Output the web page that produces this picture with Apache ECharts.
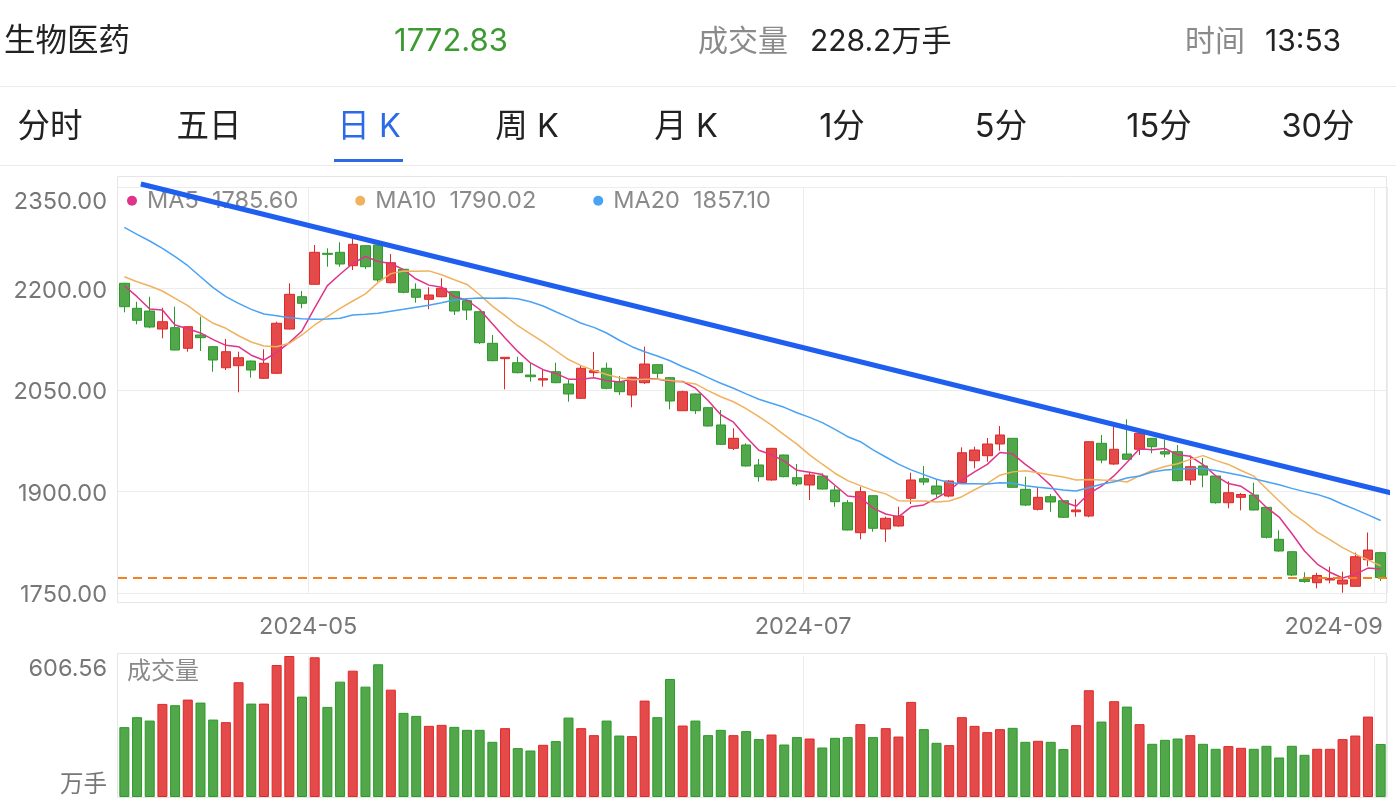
<!DOCTYPE html>
<html>
<head>
<meta charset="utf-8">
<script src="https://cdn.jsdelivr.net/npm/echarts@6/dist/echarts.min.js"></script>
<style>
html,body{margin:0;padding:0;background:#fff;}
#c{width:1396px;height:808px;}
</style>
</head>
<body>
<div id="c"></div>
<script>
// ---------- data ----------
const dates = [
'2024-04-10','2024-04-11','2024-04-12','2024-04-15','2024-04-16','2024-04-17','2024-04-18','2024-04-19','2024-04-22','2024-04-23',
'2024-04-24','2024-04-25','2024-04-26','2024-04-29','2024-04-30','2024-05-06','2024-05-07','2024-05-08','2024-05-09','2024-05-10',
'2024-05-13','2024-05-14','2024-05-15','2024-05-16','2024-05-17','2024-05-20','2024-05-21','2024-05-22','2024-05-23','2024-05-24',
'2024-05-27','2024-05-28','2024-05-29','2024-05-30','2024-05-31','2024-06-03','2024-06-04','2024-06-05','2024-06-06','2024-06-07',
'2024-06-11','2024-06-12','2024-06-13','2024-06-14','2024-06-17','2024-06-18','2024-06-19','2024-06-20','2024-06-21','2024-06-24',
'2024-06-25','2024-06-26','2024-06-27','2024-06-28','2024-07-01','2024-07-02','2024-07-03','2024-07-04','2024-07-05','2024-07-08',
'2024-07-09','2024-07-10','2024-07-11','2024-07-12','2024-07-15','2024-07-16','2024-07-17','2024-07-18','2024-07-19','2024-07-22',
'2024-07-23','2024-07-24','2024-07-25','2024-07-26','2024-07-29','2024-07-30','2024-07-31','2024-08-01','2024-08-02','2024-08-05',
'2024-08-06','2024-08-07','2024-08-08','2024-08-09','2024-08-12','2024-08-13','2024-08-14','2024-08-15','2024-08-16','2024-08-19',
'2024-08-20','2024-08-21','2024-08-22','2024-08-23','2024-08-26','2024-08-27','2024-08-28','2024-08-29','2024-08-30','2024-09-02'];

const opens = [2207.7,2170.7,2166.7,2140.1,2142.1,2111.6,2131.3,2114.0,2082.9,2085.9,
2092.8,2067.3,2074.7,2140.1,2187.9,2206.2,2252.0,2253.5,2233.7,2263.2,
2264.3,2208.6,2228.4,2198.8,2184.0,2187.9,2195.3,2182.0,2165.7,2119.0,
2096.3,2090.3,2072.1,2064.8,2077.0,2058.9,2037.7,2075.6,2082.1,2062.3,
2042.6,2060.8,2087.4,2068.2,2019.4,2044.1,2023.9,1998.3,1963.8,1968.7,
1939.2,1917.0,1953.9,1920.4,1909.6,1922.9,1902.2,1883.4,1839.1,1893.8,
1844.6,1849.0,1889.9,1918.9,1908.1,1893.3,1913.0,1945.5,1952.9,1970.2,
1978.6,1903.2,1873.7,1892.3,1886.4,1870.1,1863.8,1971.2,1940.6,1955.4,
1962.4,1978.6,1958.8,1958.8,1917.0,1937.7,1922.9,1883.4,1891.4,1894.8,
1876.6,1829.4,1811.0,1770.2,1765.2,1769.2,1763.3,1759.9,1799.2,1809.6];

const closes = [2173.1,2153.0,2143.1,2150.9,2109.1,2143.5,2127.3,2094.3,2106.6,2097.7,
2079.5,2089.5,2148.6,2191.4,2178.1,2253.5,2250.5,2236.2,2265.3,2232.2,
2212.6,2238.1,2194.4,2187.0,2190.4,2200.3,2166.7,2168.2,2119.9,2093.3,
2098.3,2075.6,2069.6,2066.7,2060.8,2044.1,2082.1,2078.5,2052.5,2047.5,
2068.8,2088.4,2074.7,2033.7,2047.5,2019.4,1996.8,1969.7,1978.6,1937.7,
1921.9,1963.8,1921.9,1911.1,1924.4,1903.7,1884.9,1843.1,1899.7,1845.6,
1860.4,1863.8,1917.0,1914.0,1896.3,1915.5,1957.3,1961.3,1970.2,1983.5,
1906.2,1880.0,1891.4,1884.5,1861.9,1872.7,1973.6,1946.5,1962.4,1947.6,
1986.0,1966.2,1955.4,1916.0,1936.6,1924.4,1883.4,1898.2,1895.6,1872.7,
1832.3,1812.1,1776.6,1767.0,1775.9,1771.7,1769.2,1803.6,1813.5,1772.83];

const lows = [2164.8,2147.1,2141.2,2126.4,2108.5,2106.6,2107.6,2077.0,2079.5,2046.6,
2068.2,2066.3,2073.5,2139.5,2170.7,2205.5,2232.2,2232.2,2227.3,2228.8,
2210.0,2207.5,2192.9,2179.0,2169.3,2187.0,2160.8,2153.4,2118.0,2092.5,
2051.0,2074.5,2062.3,2054.9,2060.0,2032.7,2037.0,2069.6,2051.0,2042.6,
2024.4,2058.9,2067.3,2021.5,2019.0,2014.5,1996.0,1968.7,1961.3,1937.0,
1914.5,1916.0,1921.0,1908.1,1887.4,1903.0,1877.5,1842.5,1829.4,1840.6,
1825.4,1848.0,1881.5,1909.6,1891.4,1891.4,1912.5,1934.3,1944.0,1960.3,
1905.5,1878.6,1872.0,1870.1,1861.0,1862.8,1861.9,1941.7,1939.2,1947.0,
1953.9,1956.4,1950.5,1915.0,1909.6,1906.2,1882.0,1875.2,1872.2,1872.0,
1830.5,1811.0,1775.0,1765.2,1756.9,1764.3,1750.4,1759.0,1789.5,1767.7];

const highs = [2208.5,2180.5,2187.9,2171.6,2173.1,2144.5,2158.3,2115.0,2125.4,2106.6,
2093.5,2110.2,2151.0,2207.7,2196.3,2264.3,2259.4,2268.3,2274.2,2264.0,
2265.0,2251.0,2229.0,2207.7,2201.8,2215.1,2196.0,2185.5,2166.5,2131.3,
2098.8,2099.2,2089.5,2080.6,2090.3,2064.8,2085.5,2106.1,2090.3,2070.7,
2069.5,2114.0,2088.0,2069.0,2049.0,2044.8,2024.5,2020.4,1993.4,1971.2,
1948.0,1964.5,1954.5,1940.6,1927.8,1926.9,1908.1,1887.4,1907.1,1894.5,
1862.8,1877.5,1927.8,1937.7,1918.0,1917.0,1965.3,1966.2,1979.1,1996.8,
1979.0,1921.9,1906.2,1896.3,1887.0,1888.5,1974.0,1983.5,1996.8,2006.7,
1986.5,1979.0,1977.1,1968.7,1953.2,1949.5,1924.0,1915.1,1897.8,1913.0,
1877.0,1842.7,1812.0,1780.6,1780.0,1788.9,1781.5,1809.6,1839.4,1811.0];

const ma5 = [2204.1,2187.9,2169.7,2168.2,2146.0,2140.5,2134.3,2124.5,2116.0,2114.0,
2101.4,2094.0,2105.5,2120.0,2137.3,2171.5,2204.2,2221.0,2237.0,2247.3,
2240.0,2237.0,2228.0,2214.0,2205.0,2202.0,2188.0,2183.0,2169.0,2148.0,
2127.0,2107.0,2090.0,2080.0,2074.5,2066.0,2066.0,2068.0,2064.0,2062.0,
2065.9,2067.1,2066.4,2062.6,2062.6,2052.7,2034.4,2013.4,2002.4,1980.4,
1960.9,1954.3,1944.8,1931.3,1928.6,1925.0,1909.2,1893.4,1891.2,1875.4,
1866.7,1862.5,1877.3,1880.2,1890.3,1901.3,1917.0,1928.9,1940.1,1957.6,
1955.7,1940.2,1926.3,1909.1,1884.8,1878.1,1896.8,1907.8,1923.4,1943.0,
1963.2,1961.7,1963.5,1954.2,1952.0,1939.7,1923.2,1911.7,1907.6,1894.9,
1876.4,1862.2,1837.9,1812.1,1792.8,1780.7,1772.1,1777.5,1786.8,1785.60];

const ma10 = [2217.4,2210.0,2203.7,2196.3,2185.5,2174.6,2160.8,2148.6,2141.2,2130.2,
2121.0,2115.0,2114.0,2119.0,2131.3,2146.1,2158.3,2170.7,2181.5,2192.0,
2209.0,2222.0,2226.0,2225.5,2226.0,2220.3,2213.0,2206.0,2190.7,2174.0,
2160.0,2145.0,2133.0,2121.0,2108.0,2095.0,2086.0,2079.0,2073.0,2068.0,
2065.0,2066.0,2066.0,2064.0,2062.0,2059.0,2049.0,2040.0,2032.6,2022.6,
2010.6,1998.0,1983.7,1970.0,1954.2,1940.3,1927.0,1916.0,1908.7,1901.6,
1896.5,1886.5,1886.0,1886.0,1884.5,1886.0,1892.3,1902.6,1912.0,1924.1,
1929.0,1930.6,1927.7,1924.5,1921.5,1917.0,1917.8,1917.0,1916.5,1914.0,
1923.0,1931.0,1937.0,1941.0,1947.5,1953.0,1946.0,1940.0,1931.0,1922.7,
1904.0,1886.0,1868.0,1855.0,1840.0,1829.0,1817.0,1807.5,1799.0,1790.02];

const ma20 = [2290.4,2280.1,2270.2,2259.4,2247.0,2233.7,2217.4,2201.2,2187.9,2178.1,
2169.2,2162.3,2159.8,2156.8,2155.4,2154.5,2154.9,2156.0,2160.8,2161.8,
2163.3,2166.3,2169.2,2172.2,2175.2,2179.0,2183.0,2184.9,2186.0,2185.5,
2186.0,2184.9,2180.5,2174.1,2165.7,2157.4,2148.6,2142.6,2134.2,2123.5,
2114.0,2106.6,2100.2,2093.3,2084.4,2077.0,2068.2,2059.9,2052.5,2044.3,
2036.3,2030.3,2024.4,2016.4,2009.6,2001.7,1991.9,1981.0,1973.6,1961.5,
1951.0,1940.4,1932.0,1925.0,1918.0,1913.4,1911.6,1911.4,1911.0,1913.0,
1912.1,1908.5,1906.3,1904.5,1902.1,1900.8,1905.5,1910.6,1914.5,1920.0,
1923.0,1928.7,1931.7,1932.7,1934.0,1934.0,1931.0,1927.5,1923.7,1919.0,
1914.5,1910.0,1904.6,1899.8,1895.7,1889.7,1881.2,1873.6,1865.5,1857.10];

const volumes = [300.5,343.4,328.8,400.5,394.9,419.0,406.1,333.1,322.0,493.7,
401.8,401.8,567.9,606.56,431.8,601.0,387.6,496.2,543.5,474.8,
570.9,461.9,361.9,349.0,306.1,310.4,301.8,288.9,288.9,237.4,
296.2,210.3,200.0,224.5,240.4,341.7,296.2,266.1,328.8,264.4,
261.9,414.7,343.4,507.8,307.4,328.8,266.1,288.9,266.1,283.3,
249.0,268.7,225.8,257.6,251.6,212.9,254.6,257.6,313.4,257.6,
296.2,260.1,409.1,291.9,233.1,223.2,343.4,306.1,279.0,291.9,
297.5,237.4,241.7,237.4,206.1,309.1,459.3,324.5,412.1,388.9,
313.4,228.8,246.0,251.6,266.1,228.8,207.3,218.9,211.6,207.3,
220.2,170.0,220.2,181.6,207.3,207.3,249.0,264.4,346.0,228.2];

// trend line endpoints: [candle index, price]
const trendLine = [[1.3, 2354.4], [100.2, 1896.3]];

const priceTicks = [1750, 2350, 150];        // min, max, step
const monthLabelDates = ['2024-05-06', '2024-07-01', '2024-09-02'];
const monthLabels = ['2024-05', '2024-07', '2024-09'];

const header = {name: '生物医药', price: '1772.83', volLabel: '成交量', vol: '228.2万手', timeLabel: '时间', time: '13:53'};
const tabs = ['分时', '五日', '日 K', '周 K', '月 K', '1分', '5分', '15分', '30分'];
const activeTab = '日 K';

// ---------- style ----------
const FONT = 'Inter, "Noto Sans CJK SC", sans-serif';
const UP = '#e44a49', UP_B = '#e02828', DN = '#52a74a', DN_B = '#2a9a2a';
const C_MA5 = '#e0338a', C_MA10 = '#f0b25e', C_MA20 = '#4aa2f5';
const GL = 118, GR = 1387;
const AX = 23.5;

const kData = opens.map((o, i) => [o, closes[i], lows[i], highs[i]]);
const volData = volumes.map((v, i) => ({
  value: v,
  itemStyle: closes[i] >= opens[i] ? {color: UP, borderColor: UP_B} : {color: DN, borderColor: DN_B}
}));
const volMax = Math.max(...volumes);
const lastOf = {MA5: ma5[ma5.length - 1], MA10: ma10[ma10.length - 1], MA20: ma20[ma20.length - 1]};
const labelIdx = monthLabelDates.map(d => dates.indexOf(d));

const chart = echarts.init(document.getElementById('c'), null, {renderer: 'canvas'});

const graphics = [];
function txt(x, y, text, size, color, align) {
  graphics.push({type: 'text', x: x, y: y, silent: true,
    style: {text: text, fill: color, fontSize: size, fontFamily: FONT, align: align || 'left', verticalAlign: 'middle'}});
}
txt(4, 42, header.name, 31.5, '#222');
txt(451, 42, header.price, 31, '#3c9b30', 'center');
txt(698, 42, header.volLabel, 30, '#8a8a8a');
txt(810, 42, header.vol, 30, '#222');
txt(1185, 42, header.timeLabel, 30, '#8a8a8a');
txt(1265, 42, header.time, 30, '#222');
graphics.push({type: 'rect', silent: true, shape: {x: 0, y: 86, width: 1396, height: 1}, style: {fill: '#ebebeb'}});
const tabCenters = [50, 209, 369, 527, 686, 842, 1001, 1159, 1318];
tabs.forEach((t, i) => {
  txt(tabCenters[i], 127, t, 32.5, t === activeTab ? '#2d6be6' : '#222', 'center');
});
graphics.push({type: 'rect', silent: true, shape: {x: 334, y: 159, width: 69, height: 3}, style: {fill: '#2d6be6'}});
graphics.push({type: 'rect', silent: true, shape: {x: 0, y: 165, width: 1396, height: 1}, style: {fill: '#ebebeb'}});
// panel frames
graphics.push({type: 'rect', silent: true, shape: {x: 117.5, y: 176.5, width: 1269, height: 426}, style: {fill: 'none', stroke: '#e6e6e6', lineWidth: 1}});
graphics.push({type: 'rect', silent: true, shape: {x: 117.5, y: 653.5, width: 1269, height: 144}, style: {fill: 'none', stroke: '#e6e6e6', lineWidth: 1}});
txt(127, 672, '成交量', 24, '#8a8a8a');

const splitIntervalFn = (idx) => labelIdx.indexOf(idx) >= 0;

const option = {
  animation: false,
  backgroundColor: '#fff',
  textStyle: {fontFamily: FONT},
  graphic: graphics,
  legend: {
    data: ['MA5', 'MA10', 'MA20'],
    left: 122, top: 184,
    icon: 'circle', itemWidth: 10, itemHeight: 10, itemGap: 57,
    selectedMode: false,
    textStyle: {fontSize: AX, color: '#8a8a8a', fontFamily: FONT, padding: [0, 0, 0, 5]},
    formatter: (name) => name + '  ' + lastOf[name].toFixed(2)
  },
  grid: [
    {left: GL, width: GR - GL, top: 187, height: 406},
    {left: GL, width: GR - GL, top: 656, height: 141}
  ],
  xAxis: [
    {type: 'category', gridIndex: 0, data: dates, boundaryGap: true,
     axisLine: {show: false}, axisTick: {show: false},
     axisLabel: {
       interval: splitIntervalFn, margin: 22, color: '#777', fontSize: AX, fontFamily: FONT,
       formatter: (v, i) => {
         const k = monthLabelDates.indexOf(v);
         if (k < 0) return '';
         return k === monthLabelDates.length - 1 ? '{r|' + monthLabels[k] + '}' : '{c|' + monthLabels[k] + '}';
       },
       rich: {
         c: {fontSize: AX, color: '#777', fontFamily: FONT, padding: [0, 13, 0, 0]},
         r: {fontSize: AX, color: '#777', fontFamily: FONT, padding: [0, 94, 0, 0]}
       }
     },
     splitLine: {show: true, interval: splitIntervalFn, lineStyle: {color: '#ececec', width: 1}}},
    {type: 'category', gridIndex: 1, data: dates, boundaryGap: true,
     axisLine: {show: false}, axisTick: {show: false}, axisLabel: {show: false},
     splitLine: {show: true, interval: splitIntervalFn, lineStyle: {color: '#ececec', width: 1}}},
    {type: 'value', gridIndex: 0, min: -0.5, max: dates.length - 0.5, show: false}
  ],
  yAxis: [
    {type: 'value', gridIndex: 0, min: priceTicks[0], max: priceTicks[1], interval: priceTicks[2],
     axisLine: {show: false}, axisTick: {show: false},
     splitLine: {show: true, lineStyle: {color: '#ececec', width: 1}},
     axisLabel: {
       margin: 11, color: '#777', fontSize: AX, fontFamily: FONT,
       formatter: (v) => v >= priceTicks[1] ? '{t|' + v.toFixed(2) + '}' : '{n|' + v.toFixed(2) + '}',
       rich: {
         t: {fontSize: AX, color: '#777', fontFamily: FONT, padding: [30, 0, 0, 0]},
         n: {fontSize: AX, color: '#777', fontFamily: FONT, padding: [4, 0, 0, 0]}
       }
     }},
    {type: 'value', gridIndex: 1, min: 0, max: volMax, interval: volMax,
     axisLine: {show: false}, axisTick: {show: false}, splitLine: {show: false},
     axisLabel: {
       margin: 11, color: '#777', fontSize: AX, fontFamily: FONT,
       formatter: (v) => v > 0 ? '{t|' + v.toFixed(2) + '}' : '{b|万手}',
       rich: {
         t: {fontSize: AX, color: '#777', fontFamily: FONT, padding: [26, 0, 0, 0]},
         b: {fontSize: AX, color: '#777', fontFamily: FONT, padding: [0, 0, 25, 0]}
       }
     }}
  ],
  series: [
    {name: 'K', type: 'candlestick', xAxisIndex: 0, yAxisIndex: 0, data: kData, barWidth: 10,
     itemStyle: {color: UP, color0: DN, borderColor: UP_B, borderColor0: DN_B, borderWidth: 1},
     markLine: {
       symbol: ['none', 'none'], silent: true, animation: false,
       label: {show: false},
       lineStyle: {color: '#f5821f', type: [9, 6], width: 2},
       data: [{yAxis: closes[closes.length - 1]}]
     }},
    {name: 'MA5', type: 'line', xAxisIndex: 0, yAxisIndex: 0, data: ma5, symbol: 'none', color: C_MA5,
     lineStyle: {width: 1.5, color: C_MA5}, itemStyle: {color: C_MA5}, z: 3},
    {name: 'MA10', type: 'line', xAxisIndex: 0, yAxisIndex: 0, data: ma10, symbol: 'none', color: C_MA10,
     lineStyle: {width: 1.5, color: C_MA10}, itemStyle: {color: C_MA10}, z: 3},
    {name: 'MA20', type: 'line', xAxisIndex: 0, yAxisIndex: 0, data: ma20, symbol: 'none', color: C_MA20,
     lineStyle: {width: 1.5, color: C_MA20}, itemStyle: {color: C_MA20}, z: 3},
    {name: 'trend', type: 'line', xAxisIndex: 2, yAxisIndex: 0, data: trendLine, symbol: 'none', clip: false,
     lineStyle: {width: 5, color: '#1f5ff0'}, z: 5, silent: true},
    {name: 'VOL', type: 'bar', xAxisIndex: 1, yAxisIndex: 1, data: volData, barWidth: 10,
     itemStyle: {borderWidth: 1}}
  ]
};
chart.setOption(option);
</script>
</body>
</html>
